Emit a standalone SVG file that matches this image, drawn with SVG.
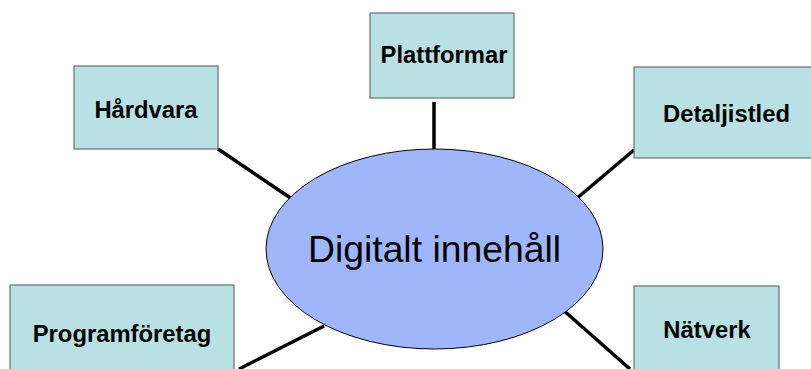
<svg xmlns="http://www.w3.org/2000/svg" width="811" height="369" viewBox="0 0 811 369">
<style>
.box{fill:#B9E0E3;stroke:#555;stroke-width:1}
.lbl{font-family:"Liberation Sans",Arial,sans-serif;font-weight:bold;font-size:23.8px;fill:#000;text-anchor:middle}
.conn line{stroke:#000;stroke-width:3.5}
</style>
<rect width="811" height="369" fill="#fff"/>
<g id="connectors" class="conn">
<line x1="218" y1="149" x2="292" y2="199"/>
<line x1="434" y1="102" x2="434" y2="152"/>
<line x1="634" y1="150" x2="576" y2="199"/>
<line x1="239" y1="369" x2="324" y2="326"/>
<line x1="562" y1="309" x2="630" y2="369"/>
</g>
<g id="hardvara"><rect class="box" x="74" y="66" width="144" height="83"/><text class="lbl" x="146" y="118">Hårdvara</text></g>
<g id="plattformar"><rect class="box" x="370" y="13" width="144" height="85"/><text class="lbl" x="444" y="63">Plattformar</text></g>
<g id="detaljistled"><rect class="box" x="634" y="67" width="185" height="91"/><text class="lbl" x="726.5" y="122">Detaljistled</text></g>
<g id="programforetag"><rect class="box" x="10" y="285" width="224" height="100"/><text class="lbl" x="122" y="342">Programföretag</text></g>
<g id="natverk"><rect class="box" x="634" y="286" width="145" height="100"/><text class="lbl" x="707" y="338">Nätverk</text></g>
<g id="digitalt"><ellipse cx="434.5" cy="249" rx="168.5" ry="100" fill="#A0B6FB" stroke="#000" stroke-width="1"/><text x="434.5" y="262" font-family="Liberation Sans, Arial, sans-serif" font-size="37.3" text-anchor="middle" fill="#000">Digitalt innehåll</text></g>
</svg>
